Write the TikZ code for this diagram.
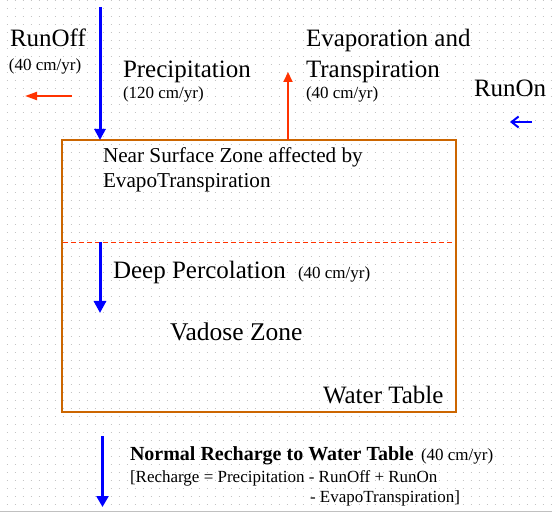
\documentclass[tikz,border=0pt]{standalone}
\usepackage{fontspec}
\setmainfont{Liberation Serif}
\usetikzlibrary{arrows.meta}
\definecolor{myblue}{HTML}{0000FF}
\definecolor{myred}{HTML}{FF3300}
\definecolor{boxc}{HTML}{CC6600}
\definecolor{dotc}{HTML}{C4C4C4}
\definecolor{basec}{HTML}{C0C0C0}
\begin{document}
\begin{tikzpicture}[x=1pt,y=-1pt,
  lbl/.style={anchor=base west, inner sep=0pt, outer sep=0pt},
  big/.style={lbl, font=\fontsize{25}{29}\selectfont},
  med/.style={lbl, font=\fontsize{21.2}{25}\selectfont},
  bmed/.style={lbl, font=\fontsize{20}{24}\selectfont\bfseries},
  small/.style={lbl, font=\fontsize{17}{20}\selectfont},
  bluearrow/.style={draw=myblue, line width=3pt, -{Triangle[width=11pt,length=11pt]}},
  redarrow/.style={draw=myred, line width=2pt, -{Triangle[width=9pt,length=10pt]}},
  zonebox/.style={draw=boxc, line width=2pt, minimum width=394pt, minimum height=272pt, inner sep=0pt, outer sep=0pt}
]
\useasboundingbox (0,0) rectangle (552,513);
\fill[white] (0,0) rectangle (552,513);
% dotted grid background
\foreach \r in {0,...,63}
  \draw[dotc, line width=1pt, dash pattern=on 1pt off 7pt] (6.5,{8*\r+0.5}) -- (552,{8*\r+0.5});
\draw[basec, line width=1.5pt] (0,511.5) -- (552,511.5);

% zone box
\node[zonebox] (box) at (259,276) {};
\coordinate (d1) at (63,242.3);
\coordinate (d2) at (455,242.3);
\draw[draw=myred, line width=1.5pt, dash pattern=on 5pt off 3pt] (d1) -- (d2);

% labels
\node[big] (runoff) at (10,47) {RunOff};
\node[small] (runoffrate) at (9,71) {(40 cm/yr)};
\node[big] (precip) at (123,78) {Precipitation};
\node[small] (preciprate) at (123,99) {(120 cm/yr)};
\node[big] (evap1) at (306,47) {Evaporation and};
\node[big] (evap2) at (306,78) {Transpiration};
\node[small] (evaprate) at (306,99) {(40 cm/yr)};
\node[big] (runon) at (474,97) {RunOn};
\node[med] (near1) at (103,163) {Near Surface Zone affected by};
\node[med] (near2) at (103,188) {EvapoTranspiration};
\node[big] (deep) at (113,279) {Deep Percolation};
\node[small] (deeprate) at (298,279) {(40 cm/yr)};
\node[big, font=\fontsize{25.5}{29}\selectfont] (vadose) at (170,341) {Vadose Zone};
\node[big] (wt) at (323,403) {Water Table};
\node[bmed] (recharge) at (130,460) {Normal Recharge to Water Table};
\node[small] (rechargerate) at (421,460) {(40 cm/yr)};
\node[small] (eq1) at (130,482) {[Recharge = Precipitation - RunOff + RunOn};
\node[small] (eq2) at (310,502) {- EvapoTranspiration]};

% arrows
\coordinate (p1) at (100,7);
\coordinate (p2) at (100,140);
\draw[bluearrow] (p1) -- (p2);

\coordinate (e1) at (288,140);
\coordinate (e2) at (288,72);
\draw[redarrow] (e1) -- (e2);

\coordinate (ro1) at (72,96);
\coordinate (ro2) at (25,96);
\draw[draw=myred, line width=2pt, -{Triangle[width=8pt,length=12pt]}] (ro1) -- (ro2);

\coordinate (rn1) at (532,122);
\coordinate (rn2) at (510,122);
\draw[draw=myblue, line width=2pt, -{Straight Barb[width=11pt,length=7pt]}] (rn1) -- (rn2);

\coordinate (dp1) at (100,242);
\coordinate (dp2) at (100,313);
\draw[bluearrow, -{Triangle[width=12pt,length=12pt]}] (dp1) -- (dp2);

\coordinate (r1) at (102.5,436);
\coordinate (r2) at (102.5,507);
\draw[bluearrow, line width=2.5pt, -{Triangle[width=12pt,length=11pt]}] (r1) -- (r2);
\end{tikzpicture}
\end{document}
